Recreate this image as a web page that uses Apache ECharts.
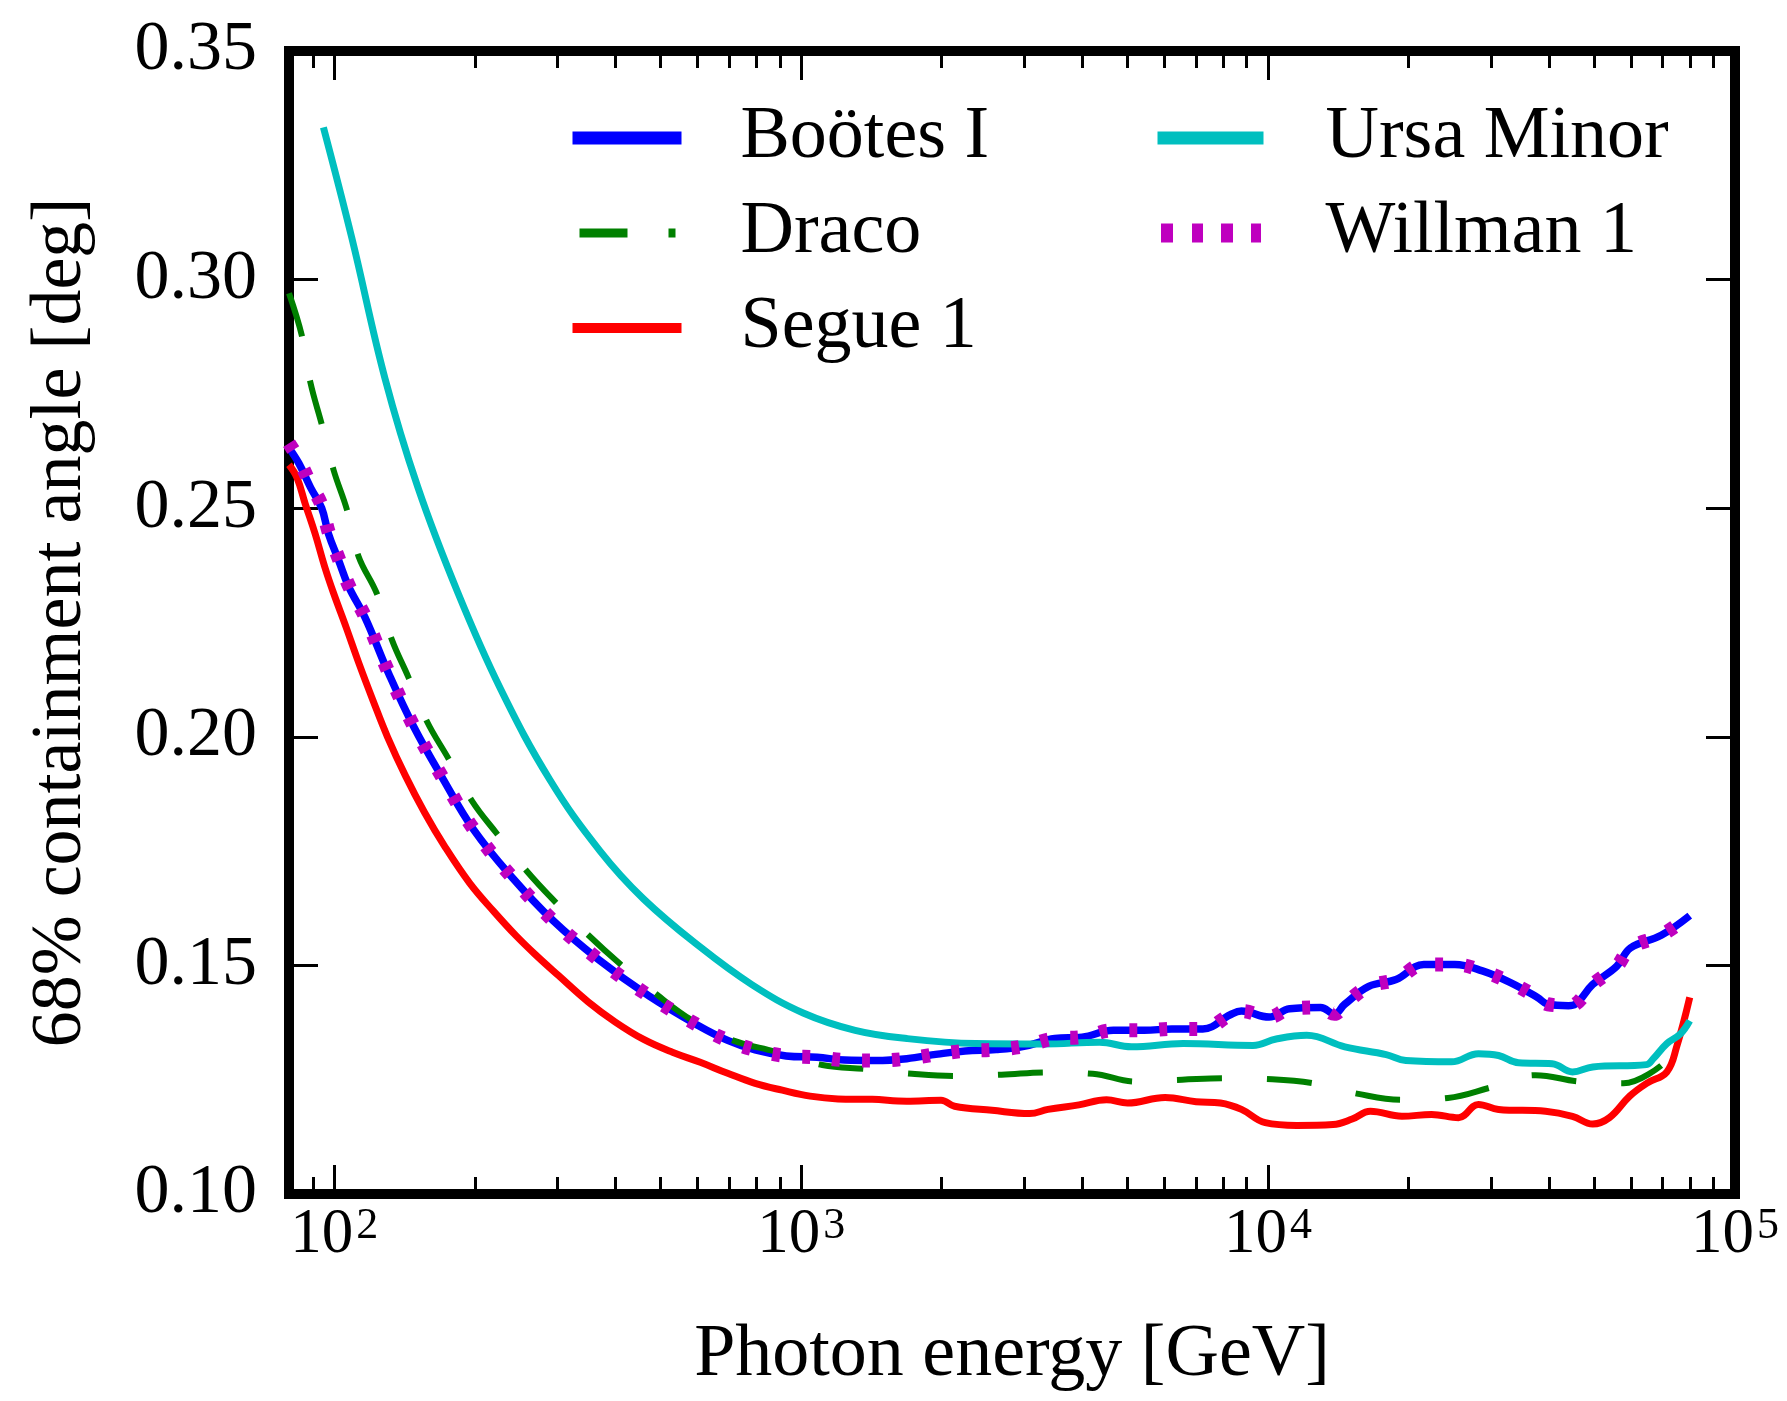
<!DOCTYPE html>
<html>
<head>
<meta charset="utf-8">
<script src="https://cdn.jsdelivr.net/npm/echarts@6/dist/echarts.min.js"></script>
<style>
  html, body { margin: 0; padding: 0; background: #ffffff; }
  #chart { width: 1787px; height: 1401px; }
</style>
</head>
<body>
<div id="chart"></div>
<script>
// 68% containment angle of the photon PSF versus energy, per dwarf galaxy.

const bootesEnergy = [80, 84, 89, 94, 97.2, 102.1, 107.3, 116.5, 130.7, 148, 171.4, 198.8, 240.2, 294.9, 368, 471, 603, 696, 797, 929, 1082, 1239, 1444, 1683, 1961, 2244, 2616, 3000, 3494, 3998, 4662, 5430, 6223, 7245, 8300, 8770, 10050, 11120, 12960, 13870, 14590, 16430, 18800, 21560, 25120, 28770, 32960, 37760, 39720, 43990, 45500, 49550, 55810, 59700, 69500, 80000];
const bootesAngle  = [0.2632, 0.2598, 0.2545, 0.2500, 0.2444, 0.2387, 0.2329, 0.2260, 0.2139, 0.2022, 0.1906, 0.1797, 0.1693, 0.1597, 0.1513, 0.1434, 0.1368, 0.1336, 0.1315, 0.1302, 0.1299, 0.1293, 0.1292, 0.1296, 0.1306, 0.1313, 0.1316, 0.1323, 0.1340, 0.1343, 0.1358, 0.1358, 0.1361, 0.1361, 0.1392, 0.1400, 0.1387, 0.1405, 0.1408, 0.1394, 0.1415, 0.1454, 0.1469, 0.1502, 0.1502, 0.1488, 0.1463, 0.1430, 0.1415, 0.1412, 0.1415, 0.1458, 0.1498, 0.1538, 0.1566, 0.1609];

const dracoEnergy = [80, 85.3, 88.9, 94.1, 99.7, 106.5, 112.7, 123.4, 132.9, 144.2, 157.9, 175.7, 197.2, 223.1, 258.6, 297.3, 350.4, 409.6, 491, 588, 714, 883, 1110, 1384, 1727, 2153, 2685, 3377, 4211, 5206, 6543, 8166, 10210, 12740, 15610, 19450, 24270, 29990, 37410, 46240, 57680, 69500];
const dracoAngle  = [0.2970, 0.2876, 0.2775, 0.2682, 0.2583, 0.2496, 0.2395, 0.2313, 0.2212, 0.2130, 0.2034, 0.1952, 0.1860, 0.1788, 0.1706, 0.1639, 0.1566, 0.1503, 0.1436, 0.1378, 0.1336, 0.1311, 0.1282, 0.1273, 0.1263, 0.1258, 0.1261, 0.1266, 0.1263, 0.1246, 0.1250, 0.1253, 0.1251, 0.1241, 0.1219, 0.1206, 0.1210, 0.1233, 0.1260, 0.1246, 0.1242, 0.1281];

const segueEnergy = [80, 83.2, 86.7, 91, 95.4, 99.6, 106, 113, 121, 130, 142, 156, 172, 195, 220, 245, 270, 302, 350, 400, 460, 530, 608, 696, 797, 911, 1045, 1199, 1419, 1683, 1993, 2130, 2563, 3086, 3377, 3934, 4509, 5000, 6018, 7011, 7906, 8770, 9860, 11520, 13780, 15140, 16560, 19350, 22390, 25580, 28220, 31160, 39280, 44860, 49580, 53840, 59490, 64670, 71450, 75000, 80000];
const segueAngle  = [0.2595, 0.2567, 0.2509, 0.2444, 0.2372, 0.2315, 0.2240, 0.2160, 0.2080, 0.2000, 0.1915, 0.1835, 0.1762, 0.1680, 0.1617, 0.1565, 0.1523, 0.1478, 0.1420, 0.1376, 0.1338, 0.1310, 0.1288, 0.1264, 0.1242, 0.1227, 0.1214, 0.1208, 0.1207, 0.1203, 0.1205, 0.1192, 0.1183, 0.1176, 0.1185, 0.1195, 0.1206, 0.1199, 0.1211, 0.1202, 0.1199, 0.1185, 0.1156, 0.1150, 0.1152, 0.1164, 0.1181, 0.1170, 0.1174, 0.1167, 0.1196, 0.1185, 0.1181, 0.1170, 0.1153, 0.1167, 0.1214, 0.1242, 0.1267, 0.1322, 0.1430];

const ursaEnergy = [94.8, 109, 128.5, 151, 184, 227, 290, 371, 460, 608, 784, 1010, 1305, 1683, 2364, 3311, 4355, 5100, 6580, 9280, 10410, 12100, 14600, 17900, 19730, 24700, 28220, 31160, 34400, 40600, 44860, 49580, 64670, 66850, 71450, 76350, 80000];
const ursaAngle  = [0.3333, 0.3092, 0.2783, 0.2546, 0.2315, 0.2105, 0.1905, 0.1750, 0.1645, 0.1540, 0.1458, 0.1396, 0.1358, 0.1340, 0.1329, 0.1328, 0.1332, 0.1322, 0.1329, 0.1325, 0.1339, 0.1347, 0.1322, 0.1305, 0.1292, 0.1289, 0.1307, 0.1303, 0.1287, 0.1285, 0.1267, 0.1278, 0.1283, 0.1296, 0.1329, 0.1350, 0.1379];

const willmanEnergy = [80, 84, 89, 94, 97.2, 102.1, 107.3, 116.5, 130.7, 148, 171.4, 198.8, 240.2, 294.9, 368, 471, 603, 696, 797, 929, 1082, 1239, 1444, 1683, 1961, 2244, 2616, 3000, 3494, 3998, 4662, 5430, 6223, 7245, 8300, 8770, 10050, 11120, 12960, 13870, 14590, 16430, 18800, 21560, 25120, 28770, 32960, 37760, 39720, 43990, 45500, 49550, 55810, 59700, 69500, 80000];
const willmanAngle  = [0.2642, 0.2606, 0.2552, 0.2506, 0.2449, 0.2391, 0.2332, 0.2262, 0.2141, 0.2023, 0.1907, 0.1798, 0.1693, 0.1597, 0.1513, 0.1434, 0.1368, 0.1336, 0.1315, 0.1302, 0.1299, 0.1293, 0.1292, 0.1296, 0.1306, 0.1313, 0.1316, 0.1323, 0.1340, 0.1343, 0.1358, 0.1358, 0.1361, 0.1361, 0.1392, 0.1400, 0.1387, 0.1405, 0.1408, 0.1394, 0.1415, 0.1454, 0.1469, 0.1502, 0.1502, 0.1488, 0.1463, 0.1430, 0.1415, 0.1412, 0.1415, 0.1458, 0.1498, 0.1538, 0.1566, 0.1609];

const seriesNames = ['Boötes I', 'Draco', 'Segue 1', 'Ursa Minor', 'Willman 1'];

const yTicks = [0.10, 0.15, 0.20, 0.25, 0.30, 0.35];
const xMajorTicks = [100, 1000, 10000, 100000];
const xMinorTicks = [80, 90, 200, 300, 400, 500, 600, 700, 800, 900,
  2000, 3000, 4000, 5000, 6000, 7000, 8000, 9000,
  20000, 30000, 40000, 50000, 60000, 70000, 80000, 90000];

const xTitle = 'Photon energy [GeV]';
const yTitle = '68% containment angle [deg]';

const FONT = '"Liberation Serif", "DejaVu Serif", serif';
const pairs = (xs, ys) => xs.map((x, i) => [x, ys[i]]);

const chart = echarts.init(document.getElementById('chart'), null, { renderer: 'canvas' });

const tickStyle = { color: '#000', width: 3 };

function xAxisDef(position, ticks, length, withLabels) {
  const ax = {
    type: 'log', logBase: 10, min: 80, max: 100000, position: position,
    axisLine: { show: false }, splitLine: { show: false },
    axisTick: { show: true, inside: true, length: length, lineStyle: tickStyle, customValues: ticks },
    axisLabel: { show: false }
  };
  if (withLabels) {
    ax.axisLabel = {
      show: true, customValues: ticks, margin: 10,
      formatter: v => '{b|10}{s|' + Math.round(Math.log10(v)) + '}',
      rich: {
        b: { fontFamily: FONT, fontSize: 63, lineHeight: 90, color: '#000', verticalAlign: 'top' },
        s: { fontFamily: FONT, fontSize: 44, lineHeight: 46, color: '#000', verticalAlign: 'top', padding: [0, 0, 0, 3] }
      }
    };
    ax.name = xTitle;
    ax.nameLocation = 'middle';
    ax.nameGap = 162;
    ax.nameTextStyle = { fontFamily: FONT, fontSize: 74, color: '#000', verticalAlign: 'middle', lineHeight: 80 };
  }
  return ax;
}

function yAxisDef(position, withLabels) {
  const ax = {
    type: 'value', min: 0.10, max: 0.35, interval: 0.05, position: position,
    axisLine: { show: false }, splitLine: { show: false },
    axisTick: { show: true, inside: true, length: 29, lineStyle: tickStyle },
    axisLabel: { show: false }
  };
  if (withLabels) {
    ax.axisLabel = {
      show: true, margin: 32, fontFamily: FONT, fontSize: 70, color: '#000',
      padding: [0, 0, 14, 0],
      formatter: v => v.toFixed(2)
    };
    ax.name = yTitle;
    ax.nameLocation = 'middle';
    ax.nameGap = 228;
    ax.nameTextStyle = { fontFamily: FONT, fontSize: 72, color: '#000', verticalAlign: 'middle', lineHeight: 80 };
  }
  return ax;
}

const hiddenSymbol = { color: 'rgba(0,0,0,0)', borderColor: 'rgba(0,0,0,0)', borderWidth: 0, opacity: 0 };

function lineSeries(name, data, color, width, type, z) {
  return {
    name: name, type: 'line', data: data, xAxisIndex: 0, yAxisIndex: 0,
    symbol: 'none', showSymbol: false, smooth: 0.4, clip: true, z: z,
    lineStyle: { color: color, width: width, type: type, cap: 'butt', join: 'round' },
    itemStyle: { color: color },
    emphasis: { disabled: true }, silent: true
  };
}

const legendText = { fontFamily: FONT, fontSize: 74, color: '#000', lineHeight: 80 };

chart.setOption({
  animation: false,
  backgroundColor: '#ffffff',
  grid: {
    left: 289, right: 52, top: 51, bottom: 192,
    show: true, borderColor: '#000', borderWidth: 10, backgroundColor: 'rgba(0,0,0,0)'
  },
  xAxis: [
    xAxisDef('bottom', xMajorTicks, 29, true),
    xAxisDef('bottom', xMinorTicks, 17, false),
    xAxisDef('top', xMajorTicks, 29, false),
    xAxisDef('top', xMinorTicks, 17, false)
  ],
  yAxis: [
    yAxisDef('left', true),
    yAxisDef('right', false)
  ],
  legend: [
    {
      orient: 'vertical', left: 561, top: 93, itemWidth: 109, itemHeight: 14, itemGap: 15,
      selectedMode: false, textStyle: Object.assign({ padding: [0, 0, 0, 54] }, legendText),
      data: [
        { name: seriesNames[0], itemStyle: hiddenSymbol, lineStyle: { width: 13, type: 'solid' } },
        { name: seriesNames[1], itemStyle: hiddenSymbol, lineStyle: { width: 9, type: [0, 7, 48, 41, 7, 50] } },
        { name: seriesNames[2], itemStyle: hiddenSymbol, lineStyle: { width: 10, type: 'solid' } }
      ]
    },
    {
      orient: 'vertical', left: 1143, top: 93, itemWidth: 106, itemHeight: 14, itemGap: 15,
      selectedMode: false, textStyle: Object.assign({ padding: [0, 0, 0, 57] }, legendText),
      data: [
        { name: seriesNames[3], itemStyle: hiddenSymbol, lineStyle: { width: 13, type: 'solid' } },
        { name: seriesNames[4], itemStyle: hiddenSymbol, lineStyle: { width: 19, type: [0, 3.5, 12, 19, 11, 18, 12, 18, 10, 60] } }
      ]
    }
  ],
  series: [
    lineSeries(seriesNames[0], pairs(bootesEnergy, bootesAngle), '#0000ff', 7.5, 'solid', 2),
    lineSeries(seriesNames[1], pairs(dracoEnergy, dracoAngle), '#008000', 6, [45, 45], 3),
    lineSeries(seriesNames[2], pairs(segueEnergy, segueAngle), '#ff0000', 7, 'solid', 4),
    lineSeries(seriesNames[3], pairs(ursaEnergy, ursaAngle), '#00bfbf', 7, 'solid', 5),
    lineSeries(seriesNames[4], pairs(willmanEnergy, willmanAngle), '#bf00bf', 14, [8, 22], 6)
  ]
});
</script>
</body>
</html>
